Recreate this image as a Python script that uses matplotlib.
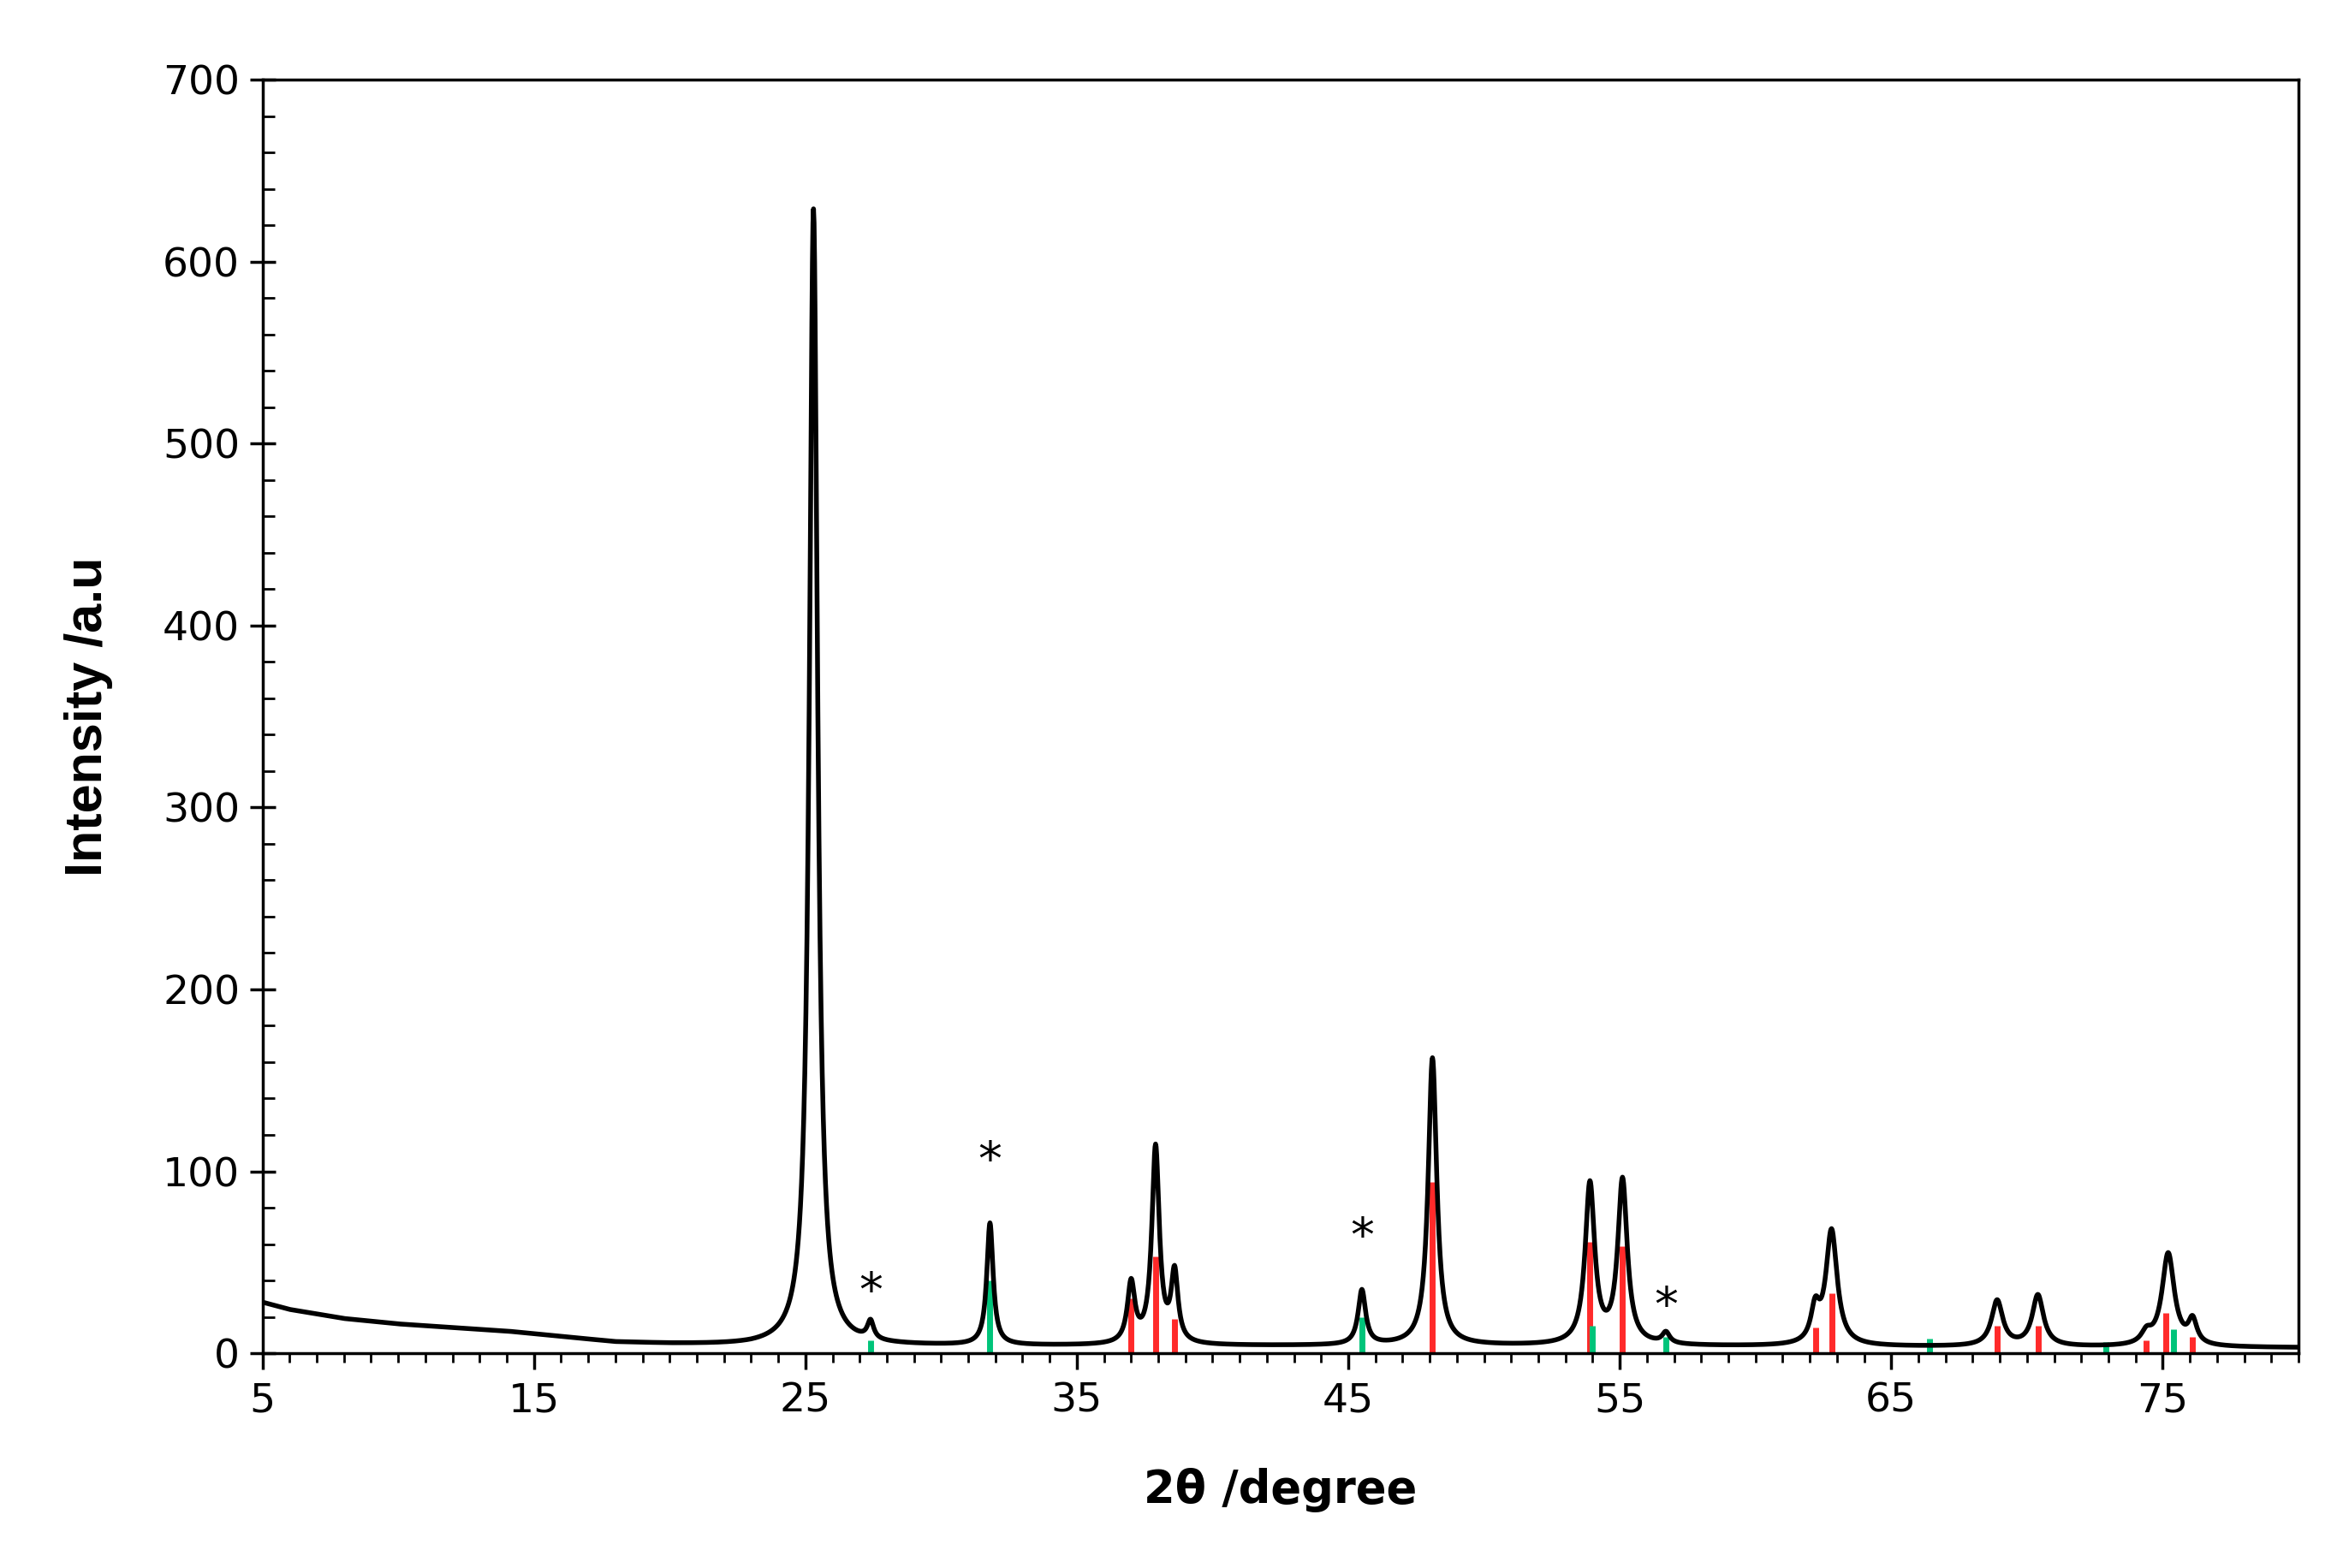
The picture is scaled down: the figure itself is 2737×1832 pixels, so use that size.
import numpy as np
import matplotlib
matplotlib.use("Agg")
import matplotlib.pyplot as plt
from matplotlib.ticker import MultipleLocator, FixedLocator

# Peak list (2theta, height above background, FWHM)
peak_pos = [25.3, 27.4, 31.8, 37.0, 37.9, 38.6, 45.5, 48.1, 53.9, 55.1, 56.7,
            62.2, 62.8, 68.9, 70.4, 74.4, 75.2, 76.1]
peak_h = [625, 10, 67, 33, 108, 38, 30, 158, 88, 90, 6,
          18, 63, 25, 28, 6, 51, 13]
peak_w = [0.36, 0.28, 0.28, 0.33, 0.33, 0.3, 0.33, 0.38, 0.42, 0.42, 0.33,
          0.38, 0.5, 0.5, 0.5, 0.45, 0.55, 0.38]
# background anchors
bg_x = [5, 6, 8, 10, 12, 14, 16, 18, 20, 23, 30, 50, 80]
bg_y = [28, 24, 19, 16, 14, 12, 9, 6, 5, 4, 4, 4, 3]

# reference sticks
red_x = [37.0, 37.9, 38.6, 48.1, 53.9, 55.1, 62.2, 62.8, 68.9, 70.4, 74.4, 75.1, 76.1]
red_h = [30, 53, 19, 94, 61, 59, 14, 33, 15, 15, 7, 22, 9]
green_x = [27.4, 31.8, 45.5, 54.0, 56.7, 66.4, 72.9, 75.4]
green_h = [7, 40, 20, 15, 9, 8, 6, 13]

star_x = [27.4, 31.8, 45.5, 56.7]
star_y = [33, 105, 63, 25]

x = np.arange(5, 80.001, 0.02)
y = np.interp(x, bg_x, bg_y)
for p, h, w in zip(peak_pos, peak_h, peak_w):
    g = w / 2
    y = y + h * g**2 / ((x - p)**2 + g**2)

fig = plt.figure(figsize=(27.37, 18.32), dpi=100)
ax = fig.add_axes([0.112, 0.137, 0.869, 0.812])
ax.vlines(red_x, 0, red_h, color="#ff2a2a", lw=5, zorder=1)
ax.vlines(green_x, 0, green_h, color="#00c47a", lw=5, zorder=1)
ax.plot(x, y, color="black", lw=4, zorder=2)
for sx, sy in zip(star_x, star_y):
    ax.text(sx, sy, "*", fontsize=40, ha="center", va="center", family="DejaVu Sans")

ax.set_xlim(5, 80)
ax.set_ylim(0, 700)
ax.xaxis.set_major_locator(FixedLocator([5, 15, 25, 35, 45, 55, 65, 75]))
ax.xaxis.set_minor_locator(MultipleLocator(1))
ax.yaxis.set_major_locator(MultipleLocator(100))
ax.yaxis.set_minor_locator(MultipleLocator(20))
ax.tick_params(axis="x", which="major", direction="out", length=14, width=2.5, labelsize=34, pad=10)
ax.tick_params(axis="x", which="minor", direction="out", length=8, width=2)
ax.tick_params(axis="y", which="major", direction="inout", length=22, width=2.5, labelsize=34, pad=8)
ax.tick_params(axis="y", which="minor", direction="in", length=10, width=2)
for s in ax.spines.values():
    s.set_linewidth(2.5)
for lab in ax.get_xticklabels() + ax.get_yticklabels():
    lab.set_family("DejaVu Sans")
ax.set_xlabel("2θ /degree", fontsize=38, fontweight="bold", family="DejaVu Sans", labelpad=40)
ax.set_ylabel("Intensity /a.u", fontsize=44, fontweight="bold", family="Liberation Sans", labelpad=42)
fig.savefig("out.png", dpi=100)
